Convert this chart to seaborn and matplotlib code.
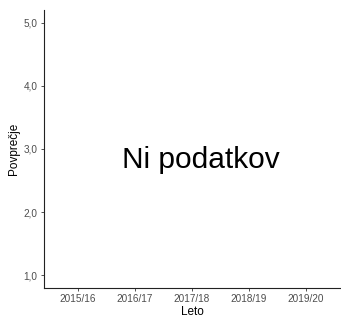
import matplotlib
matplotlib.use('Agg')
import matplotlib.pyplot as plt
import seaborn as sns
import numpy as np
import pandas as pd

# data: school years, no averages available
leta = ['2015/16', '2016/17', '2017/18', '2018/19', '2019/20']
povprecje = [np.nan, np.nan, np.nan, np.nan, np.nan]
y_ticks = [1.0, 2.0, 3.0, 4.0, 5.0]
sporocilo = 'Ni podatkov'

df = pd.DataFrame({'leto': leta, 'povprecje': povprecje})

sns.set_theme(style='ticks')
plt.rcParams['font.family'] = ['Liberation Sans', 'DejaVu Sans']

fig = plt.figure(figsize=(3.41, 3.18), dpi=100)
ax = fig.add_axes([0.129, 0.0943, 0.868, 0.8743])

sns.pointplot(data=df, x='leto', y='povprecje', order=leta, ax=ax)

ax.set_xticks(range(len(leta)))
ax.set_xticklabels(leta)
ax.set_xlim(-0.6, len(leta) - 0.4)
ax.set_ylim(0.8, 5.2)
ax.set_yticks(y_ticks)
ax.set_yticklabels([('%.1f' % v).replace('.', ',') for v in y_ticks])

ax.text(2.15, 2.82, sporocilo, ha='center', va='center', fontsize=21.5, color='black')

ax.set_xlabel('Leto', fontsize=8.5, color='black', labelpad=1)
ax.set_ylabel('Povprečje', fontsize=8.5, color='black', labelpad=3)
ax.tick_params(axis='both', labelsize=7.2, labelcolor='#4d4d4d', color='#333333',
               length=2.5, width=0.6, pad=2)
for s in ['left', 'bottom']:
    ax.spines[s].set_linewidth(0.8)
    ax.spines[s].set_color('#222222')
sns.despine(ax=ax)

fig.savefig('out.png', dpi=100)
